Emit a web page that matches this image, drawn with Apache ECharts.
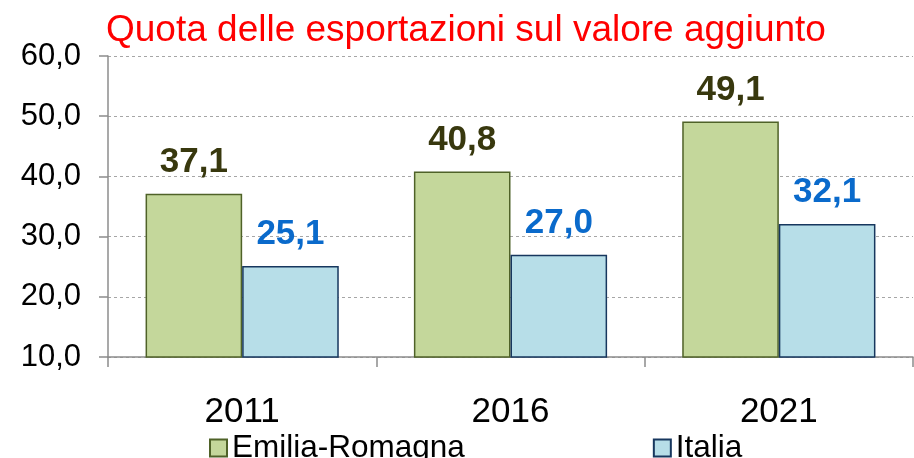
<!DOCTYPE html>
<html>
<head>
<meta charset="utf-8">
<script src="https://cdn.jsdelivr.net/npm/echarts@6/dist/echarts.min.js"></script>
<style>
  html, body { margin: 0; padding: 0; background: #fff; }
  #chart { width: 914px; height: 458px; }
</style>
</head>
<body>
<div id="chart"></div>
<script>
// dati
var anni = ['2011', '2016', '2021']
var emiliaRomagna = [37.1, 40.8, 49.1]
var italia = [25.1, 27.0, 32.1]
var serieNomi = ['Emilia-Romagna', 'Italia']

var font = 'Liberation Sans, Arial, sans-serif'
var virgola = function (v) { return v.toFixed(1).replace('.', ',') }

var chart = echarts.init(document.getElementById('chart'))
chart.setOption({
  animation: false,
  title: {
    text: 'Quota delle esportazioni sul valore aggiunto',
    left: 101,
    top: 7,
    textStyle: { color: '#ff0000', fontSize: 37, fontWeight: 'normal', fontFamily: font }
  },
  legend: {
    data: serieNomi,
    left: 204,
    top: 427,
    itemWidth: 17,
    itemHeight: 17,
    itemGap: 188,
    icon: 'rect',
    textStyle: { color: '#000', fontSize: 31.5, fontFamily: font }
  },
  grid: { left: 108, right: 1, top: 56, bottom: 101, containLabel: false },
  xAxis: {
    type: 'category',
    data: anni,
    axisLine: { lineStyle: { color: '#8c8c8c', width: 1.5 } },
    axisTick: { show: true, length: 10, lineStyle: { color: '#8c8c8c', width: 1.5 } },
    axisLabel: { color: '#000', fontSize: 35, fontFamily: font, margin: 38 }
  },
  yAxis: {
    type: 'value',
    min: 10,
    max: 60,
    interval: 10,
    axisLine: { show: true, lineStyle: { color: '#8c8c8c', width: 1.5 } },
    axisTick: { show: true, length: 9, lineStyle: { color: '#8c8c8c', width: 1.5 } },
    axisLabel: { color: '#000', fontSize: 31, fontFamily: font, margin: 27, formatter: virgola },
    splitLine: { lineStyle: { color: '#a6a6a6', type: [3, 3], width: 1 } }
  },
  series: [{
    name: serieNomi[0],
    type: 'bar',
    data: emiliaRomagna,
    barWidth: '36%',
    barGap: '0%',
    itemStyle: { color: '#c4d79b', borderColor: '#4f6228', borderWidth: 1.5 },
    label: {
      show: true,
      position: 'top',
      distance: 14,
      formatter: function (p) { return virgola(p.value) },
      color: '#38380e',
      fontSize: 35,
      fontWeight: 'bold',
      fontFamily: font
    }
  }, {
    name: serieNomi[1],
    type: 'bar',
    data: italia,
    barWidth: '36%',
    itemStyle: { color: '#b7dee8', borderColor: '#17375e', borderWidth: 1.5 },
    label: {
      show: true,
      position: 'top',
      distance: 14,
      formatter: function (p) { return virgola(p.value) },
      color: '#0a6acb',
      fontSize: 35,
      fontWeight: 'bold',
      fontFamily: font
    }
  }]
})
</script>
</body>
</html>
